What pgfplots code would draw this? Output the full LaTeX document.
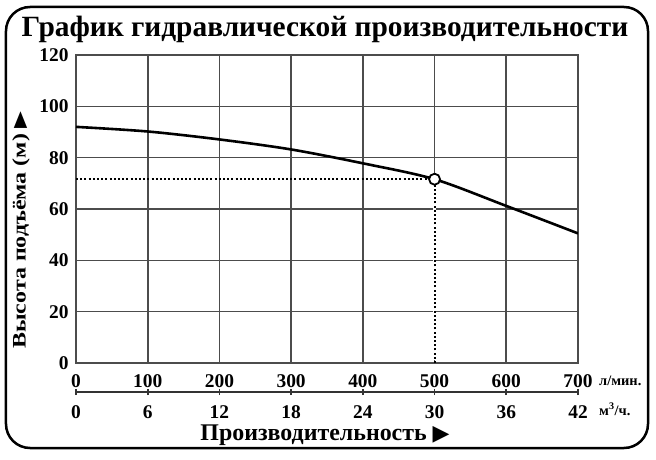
\documentclass[border=0pt]{standalone}
\usepackage{fontspec}
\setmainfont{Liberation Serif}
\newfontfamily\sym{DejaVu Sans}
\usepackage{graphicx}
\usepackage{pgfplots}
\pgfplotsset{compat=1.18}
\begin{document}
\begin{tikzpicture}
\useasboundingbox (-76bp,-97bp) rectangle (580bp,363bp);
\draw[line width=2.5bp, rounded corners=24bp] (-70bp,-85bp) rectangle (572bp,356bp);
\begin{axis}[
    name=main,
    at={(0,0)}, anchor=south west,
    scale only axis,
    width=502bp, height=308bp,
    xmin=0, xmax=700, ymin=0, ymax=120,
    xtick={0,100,...,700}, ytick={0,20,...,120},
    grid=major,
    grid style={line width=1.6bp, black!70},
    axis line style={line width=1.6bp, black!70},
    major tick length=0pt,
    /pgf/number format/assume math mode=true,
    ticklabel style={font=\bfseries\fontsize{19.5}{20}\selectfont},
    xticklabel style={anchor=base, yshift=-24bp},
    yticklabel style={anchor=east, xshift=-4bp},
]
% the grid line under the marked point is dotted only
\addplot[white, line width=2.4bp] coordinates {(500,1) (500,71.6)};
\addplot[line width=2bp, dash pattern=on 2bp off 2.2bp] coordinates {(0,71.6) (500,71.6)};
\addplot[line width=2bp, dash pattern=on 2bp off 2.2bp] coordinates {(500,0) (500,71.6)};
\addplot[line width=2.6bp, smooth] coordinates {
    (0,92) (100,90.2) (200,87.1) (300,83.2) (400,77.8) (500,71.6) (600,61.2) (700,50.5)};
\addplot[only marks, mark=*, mark size=5.5bp, mark options={fill=white, draw=black, line width=1.8bp}]
    coordinates {(500,71.6)};
\end{axis}
\begin{axis}[
    at={(0,-29bp)}, anchor=south west,
    scale only axis,
    width=502bp, height=10bp,
    xmin=0, xmax=42, ymin=0, ymax=1,
    hide y axis,
    axis x line*=bottom,
    x axis line style={line width=1.6bp, black!80, -},
    xtick={0,6,...,42},
    major tick length=6bp,
    tick align=center,
    tick style={line width=1.6bp, black!80},
    /pgf/number format/assume math mode=true,
    ticklabel style={font=\bfseries\fontsize{19.5}{20}\selectfont},
    xticklabel style={anchor=base, yshift=-23bp},
]
\end{axis}
\node[anchor=base, font=\bfseries\fontsize{29.5}{32}\selectfont] at (249bp,326bp) {График гидравлической производительности};
\node[rotate=90, font=\bfseries\fontsize{24}{26}\selectfont] at (-55bp,133bp)
    {\scalebox{1}[0.8]{Высота подъёма (м) {\sym\fontsize{22}{22}\selectfont ▶}}};
\node[anchor=base, font=\bfseries\fontsize{24}{26}\selectfont] at (249bp,-77bp)
    {Производительность {\sym\fontsize{22}{22}\selectfont ▶}};
\node[anchor=base west, inner sep=0pt, font=\bfseries\fontsize{14.5}{15}\selectfont] at (523bp,-22bp) {л/мин.};
\node[anchor=base west, inner sep=0pt, font=\bfseries\fontsize{14.5}{15}\selectfont] at (523bp,-52bp) {м\textsuperscript{3}/ч.};
\end{tikzpicture}
\end{document}
